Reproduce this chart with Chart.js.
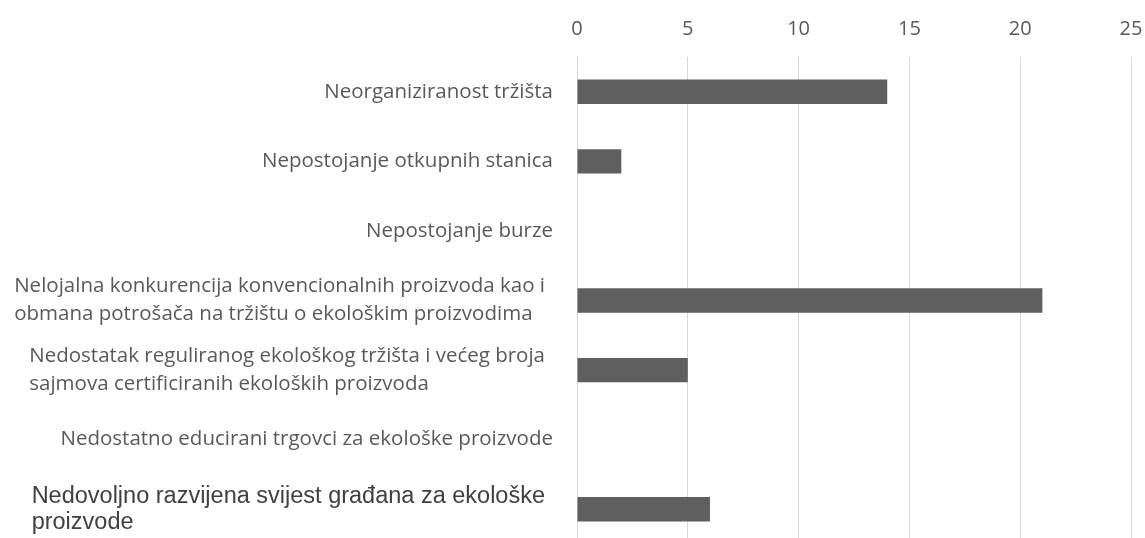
<!DOCTYPE html>
<html>
<head>
<meta charset="utf-8">
<script src="https://cdn.jsdelivr.net/npm/chart.js@4"></script>
<style>
  html, body { margin: 0; padding: 0; background: #fff; overflow: hidden; }
  #wrap { position: relative; width: 1145px; height: 544px; }
</style>
</head>
<body>
<div id="wrap"><canvas id="chart"></canvas></div>
<script>
// Chart data
const categories = [
  ['Neorganiziranost tržišta'],
  ['Nepostojanje otkupnih stanica'],
  ['Nepostojanje burze'],
  ['Nelojalna konkurencija konvencionalnih proizvoda kao i', 'obmana potrošača na tržištu o ekološkim proizvodima'],
  ['Nedostatak reguliranog ekološkog tržišta i većeg broja', 'sajmova certificiranih ekoloških proizvoda'],
  ['Nedostatno educirani trgovci za ekološke proizvode'],
  ['Nedovoljno razvijena svijest građana za ekološke', 'proizvode']
];
const values = [14, 2, 0, 21, 5, 0, 6];
const tickValues = [0, 5, 10, 15, 20, 25];

// Category labels drawn by hand so wrapped blocks stay left-aligned like Excel
const categoryLabels = {
  id: 'categoryLabels',
  afterDraw(chart) {
    const ctx = chart.ctx;
    const yScale = chart.scales.y;
    ctx.save();
    ctx.textBaseline = 'middle';
    ctx.textAlign = 'left';
    categories.forEach((lines, i) => {
      const last = i === categories.length - 1;
      ctx.font = last ? '23.5px "Liberation Sans", Arial' : '20.5px "Open Sans"';
      ctx.fillStyle = last ? '#404040' : '#595959';
      const gap = last ? 26 : 28;
      const right = lines.length > 1 ? 545 : 553;
      const w = Math.max(...lines.map(l => ctx.measureText(l).width));
      const x0 = right - w;
      const yc = yScale.getPixelForTick(i);
      const top = yc - (lines.length - 1) * gap / 2;
      lines.forEach((l, j) => ctx.fillText(l, x0, top + j * gap));
    });
    ctx.restore();
  }
};

const ctx = document.getElementById('chart').getContext('2d');
new Chart(ctx, {
  type: 'bar',
  data: {
    labels: categories.map(c => c.join(' ')),
    datasets: [{
      data: values,
      backgroundColor: '#5f5f5f',
      categoryPercentage: 1,
      barPercentage: 0.35
    }]
  },
  options: {
    indexAxis: 'y',
    responsive: true,
    maintainAspectRatio: false,
    animation: false,
    layout: { padding: 0 },
    plugins: { legend: { display: false }, tooltip: { enabled: false } },
    scales: {
      x: {
        position: 'top',
        min: tickValues[0],
        max: tickValues[tickValues.length - 1],
        border: { display: false },
        grid: { color: '#d9d9d9', lineWidth: 1, drawTicks: false },
        ticks: {
          stepSize: tickValues[1] - tickValues[0],
          color: '#595959',
          font: { family: 'Open Sans', size: 20 },
          padding: 16
        },
        afterFit(scale) {
          scale.height = 57;
          scale.paddingRight = 14;
        }
      },
      y: {
        grid: { display: false },
        border: { display: false },
        ticks: { display: false },
        afterFit(scale) { scale.width = 577; }
      }
    }
  },
  plugins: [categoryLabels]
});
</script>
</body>
</html>
